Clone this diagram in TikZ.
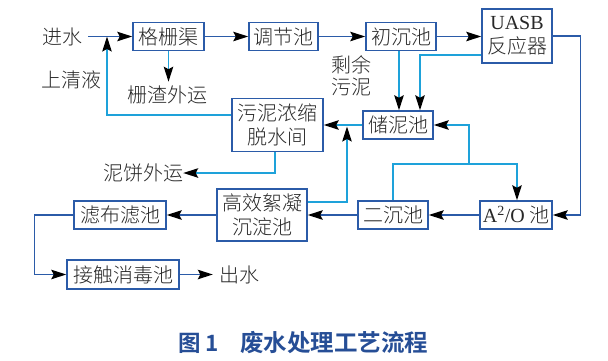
\documentclass[tikz,border=0pt]{standalone}
\usepackage{fontspec}
\setmainfont{Liberation Serif}
\newfontfamily\cjk{Noto Sans CJK SC}[UprightFont={* Light}, BoldFont={* Bold}]
\usetikzlibrary{arrows.meta}
\definecolor{dblue}{RGB}{43,91,168}
\definecolor{cyanl}{RGB}{30,162,218}
\definecolor{txt}{RGB}{40,40,40}
\definecolor{capblue}{RGB}{38,78,150}
\tikzset{
  procbox/.style={draw=dblue, line width=1.5pt, fill=white, inner sep=0pt,
    align=center, text=txt, font=\cjk\fontsize{20}{24}\selectfont},
  lbl/.style={inner sep=0pt, align=center, text=txt, font=\cjk\fontsize{20}{24}\selectfont},
  tip/.style={-{Stealth[length=15pt,width=9.5pt,inset=2.5pt,color=black]}},
  dline/.style={draw=dblue, line width=1.4pt},
  cline/.style={draw=cyanl, line width=1.4pt},
}
\begin{document}
\begin{tikzpicture}[x=1pt,y=-1pt]
\useasboundingbox (0,0) rectangle (608,360);
% boxes
\node[procbox, minimum width=71pt, minimum height=28pt] (grille) at (168.5,36.5) {格栅渠};
\node[procbox, minimum width=69pt, minimum height=28pt] (tiaojie) at (283.5,36.5) {调节池};
\node[procbox, minimum width=70pt, minimum height=28pt] (chuchen) at (401,36.5) {初沉池};
\node[procbox, minimum width=70pt, minimum height=54pt] (uasb) at (517,36) {{\rmfamily UASB}\\反应器};
\node[procbox, minimum width=91pt, minimum height=53pt] (wunong) at (277.5,125) {污泥浓缩\\脱水间};
\node[procbox, minimum width=70pt, minimum height=28pt] (chuni) at (398,125) {储泥池};
\node[procbox, minimum width=90pt, minimum height=52pt] (gaoxiao) at (262,215) {高效絮凝\\沉淀池};
\node[procbox, minimum width=92pt, minimum height=28pt] (lvbu) at (120,215) {滤布滤池};
\node[procbox, minimum width=112pt, minimum height=29pt] (jiechu) at (123,274.5) {接触消毒池};
\node[procbox, minimum width=70pt, minimum height=28pt] (erchen) at (393,215) {二沉池};
\node[procbox, minimum width=72pt, minimum height=28pt] (a2o) at (516,215) {{\rmfamily A\textsuperscript{2}/O} 池};
% labels
\node[lbl] (jinshui) at (62,36.5) {进水};
\node[lbl] (shangqing) at (71,80) {上清液};
\node[lbl] (zhazha) at (167,95) {栅渣外运};
\node[lbl, font=\cjk\fontsize{20}{22}\selectfont] (shengyu) at (351,76) {剩余\\污泥};
\node[lbl] (nibing) at (143,173) {泥饼外运};
\node[lbl] (chushui) at (239,274.5) {出水};
\node[inner sep=0pt, anchor=west, text=capblue, font=\cjk\bfseries\fontsize{22.5}{24}\selectfont] (cap1) at (178,343) {图 1};
\node[inner sep=0pt, anchor=west, text=capblue, font=\cjk\bfseries\fontsize{23.5}{24}\selectfont] (cap2) at (240,343) {废水处理工艺流程};
% coordinates
\coordinate (merge) at (107,36.5);
\coordinate (jr) at (469,164);
\coordinate (hx) at (347,126.5);
% main flow (dark blue)
\draw[dline,tip] ([xshift=6pt]jinshui.east) -- (grille.west);
\draw[dline,tip] (grille.east) -- (tiaojie.west);
\draw[dline,tip] (tiaojie.east) -- (chuchen.west);
\draw[dline,tip] (chuchen.east) -- (uasb.west |- chuchen.east);
\draw[dline,tip] (uasb.east) -- ++(28,0) |- (a2o.east);
\draw[dline,tip] (a2o.west) -- (erchen.east);
\draw[dline,tip] (erchen.west) -- (gaoxiao.east |- erchen.west);
\draw[dline,tip] (gaoxiao.west |- lvbu.east) -- (lvbu.east);
\draw[dline,tip] (lvbu.west) -- ++(-39,0) |- (jiechu.west);
\draw[dline,tip] (jiechu.east) -- ([xshift=-6pt]chushui.west);
% sludge / side flows (cyan)
\draw[cline,tip] (grille.south) -- ([yshift=4pt]grille.south |- zhazha.north);
\draw[cline,tip] (wunong.west |- 0,115) -| (merge);
\draw[cline,tip] ([xshift=-2pt]chuchen.south) -- ([xshift=1pt]chuni.north);
\draw[cline,tip] (uasb.west |- 0,55) -| ([xshift=22pt]chuni.north);
\draw[cline,tip] (chuni.west) -- (wunong.east |- chuni.west);
\draw[cline,tip] (erchen.north) |- ([xshift=1pt]a2o.north |- jr) -- ([xshift=1pt]a2o.north);
\draw[cline,tip] (jr) |- (chuni.east);
\draw[cline,tip] (gaoxiao.east |- 0,202) -| (hx);
\draw[cline,tip] (wunong.south -| 275,0) |- (nibing.east);
\end{tikzpicture}
\end{document}
